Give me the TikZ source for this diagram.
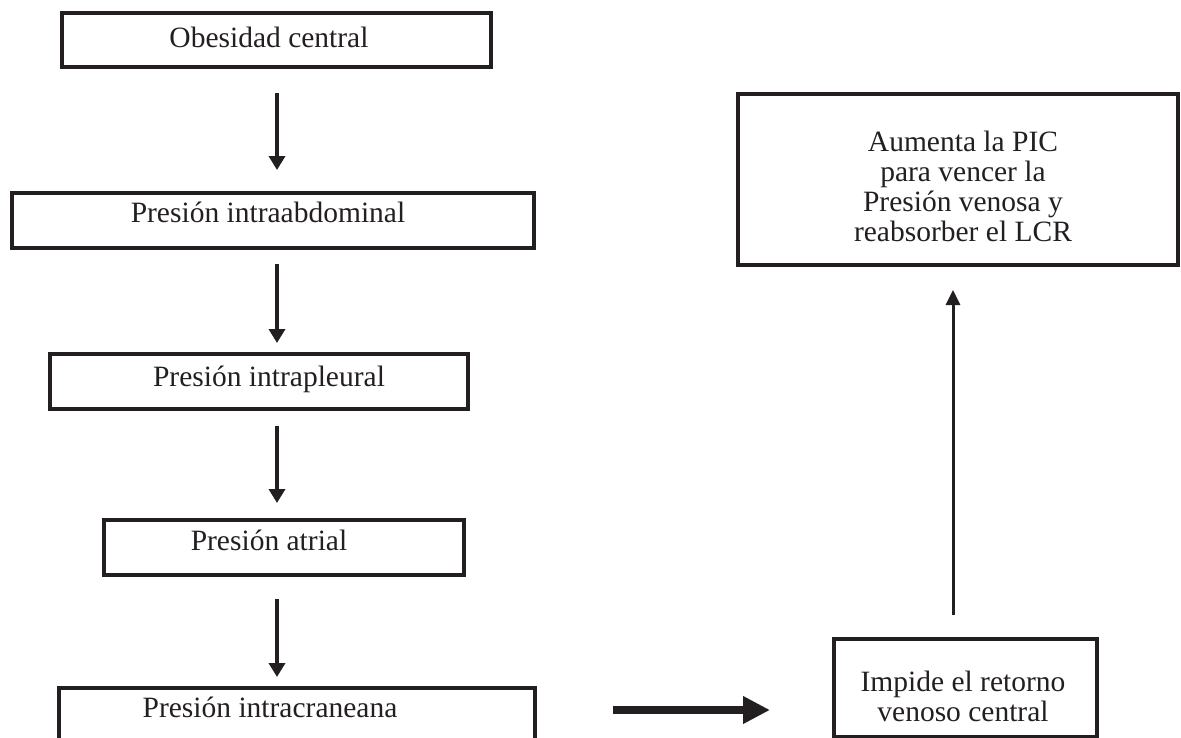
\documentclass[tikz,border=0pt]{standalone}
\usepackage{fontspec}
\setmainfont{Liberation Serif}
\usetikzlibrary{arrows.meta}
\definecolor{ink}{HTML}{231F20}
\begin{document}
\begin{tikzpicture}[x=1pt,y=-1pt,
  box/.style={draw=ink, line width=4pt, inner sep=0pt, anchor=north west},
  txt/.style={font=\fontsize{29.5}{30}\selectfont, text=ink, inner sep=0pt},
  arr/.style={draw=ink, line width=3.5pt, -{Triangle[length=14pt,width=16pt]}},
  bigarr/.style={draw=ink, line width=8pt, -{Triangle[length=27pt,width=26pt]}}]
\useasboundingbox (0,0) rectangle (1181,737);
\clip (0,0) rectangle (1181,737);

% boxes
\node[box, minimum width=429pt, minimum height=54pt] (b1) at (60,11) {};
\node[box, minimum width=522pt, minimum height=55pt] (b2) at (10,191) {};
\node[box, minimum width=418pt, minimum height=55pt] (b3) at (48,352) {};
\node[box, minimum width=360pt, minimum height=55pt] (b4) at (102,518) {};
\node[box, minimum width=476pt, minimum height=70pt] (b5) at (57,686) {};
\node[box, minimum width=263pt, minimum height=98pt] (b6) at (832,637) {};
\node[box, minimum width=440pt, minimum height=171pt] (b7) at (736,92) {};

% texts
\node[txt, anchor=base] (t1) at (269,47) {Obesidad central};
\node[txt, anchor=base] (t2) at (268,222) {Presión intraabdominal};
\node[txt, anchor=base] (t3) at (269,386) {Presión intrapleural};
\node[txt, anchor=base] (t4) at (269,550) {Presión atrial};
\node[txt, anchor=base] (t5) at (270,717) {Presión intracraneana};
\node[txt, align=center] (t6) at (963,696) {Impide el retorno\\venoso central};
\node[txt, align=center] (t7) at (963,186)
  {Aumenta la PIC\\para vencer la\\Presión venosa y\\reabsorber el LCR};

% connectors
\coordinate (ax) at (277,0);
\coordinate (ux) at (953,0);
\coordinate (ty) at (0,710);
\draw[arr, shorten <=24pt, shorten >=21pt] (b1.south -| ax) -- (b2.north -| ax);
\draw[arr, shorten <=14pt, shorten >=9pt] (b2.south -| ax) -- (b3.north -| ax);
\draw[arr, shorten <=15pt, shorten >=15pt] (b3.south -| ax) -- (b4.north -| ax);
\draw[arr, shorten <=22pt, shorten >=9pt] (b4.south -| ax) -- (b5.north -| ax);
\draw[bigarr, shorten <=76pt, shorten >=62pt] (b5.east |- ty) -- (b6.west |- ty);
\draw[arr, line width=3pt, -{Triangle[length=15pt,width=14pt]}, shorten <=22pt, shorten >=23pt] (b6.north -| ux) -- (b7.south -| ux);
\end{tikzpicture}
\end{document}
